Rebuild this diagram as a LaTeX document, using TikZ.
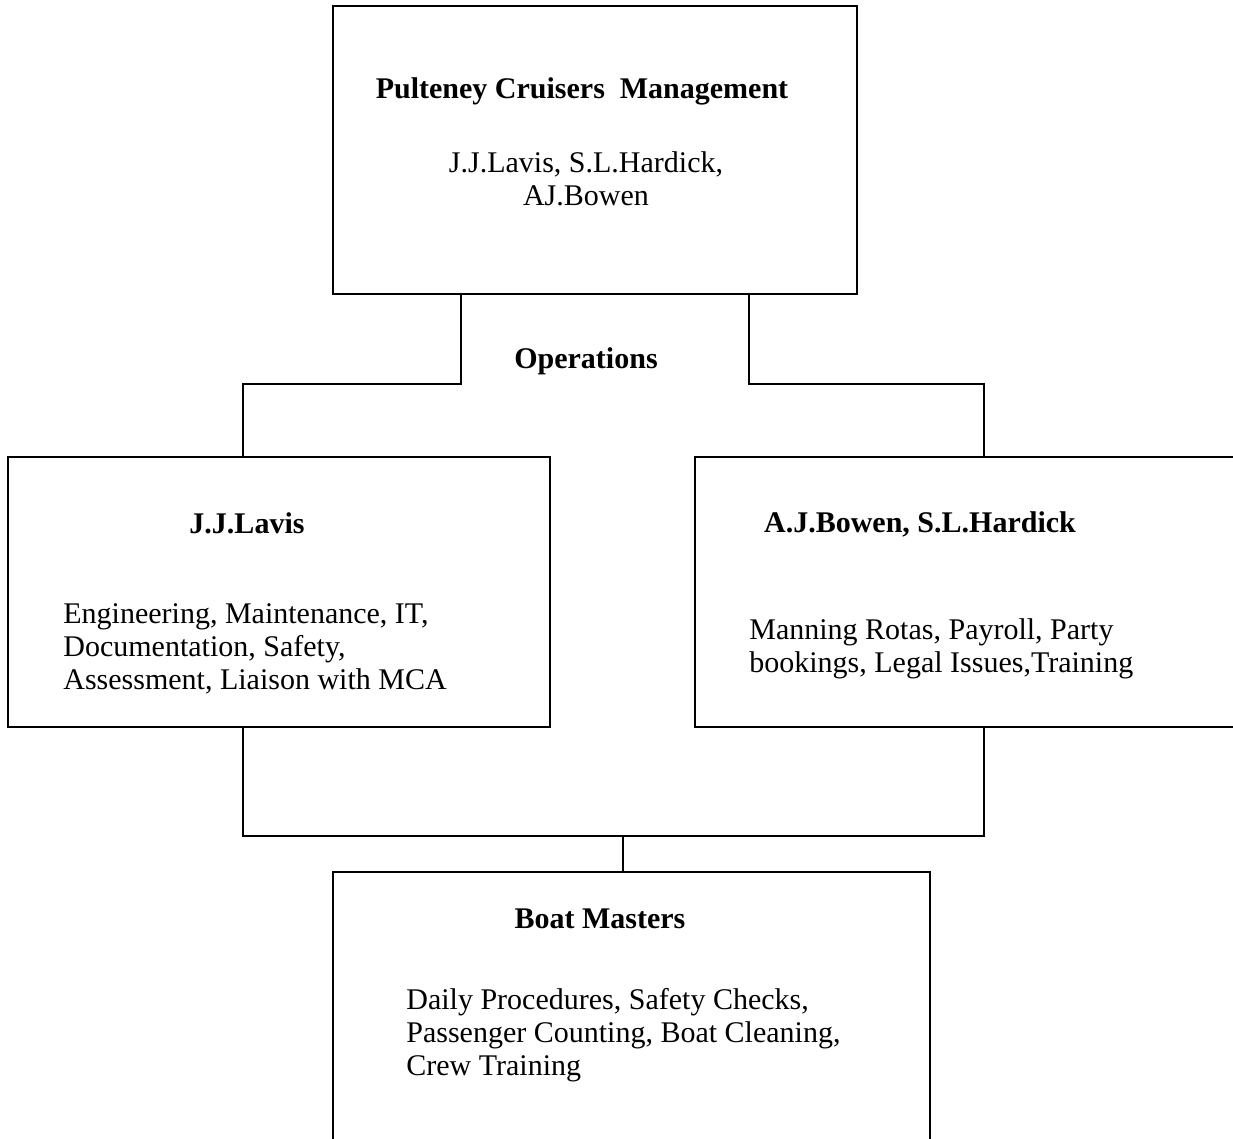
\documentclass[tikz,border=0pt]{standalone}
\usepackage{fontspec}
\setmainfont{Liberation Serif}
\begin{document}
\begin{tikzpicture}[x=0.5pt,y=-0.5pt,
  box/.style={draw, line width=0.9pt, inner sep=0pt},
  conn/.style={line width=0.75pt},
  txt/.style={inner sep=0pt, font=\fontsize{15}{16.5}\selectfont},
  btxt/.style={inner sep=0pt, font=\fontsize{15}{16.5}\selectfont\bfseries}]
\useasboundingbox (0,0) rectangle (1233,1139);
\clip (0,0) rectangle (1233,1139);
\node[box, minimum width=262pt, minimum height=144pt] (top) at (595,150) {};
\node[box, minimum width=271pt, minimum height=135pt] (left) at (279,592) {};
\node[box, minimum width=285pt, minimum height=135pt] (right) at (980,592) {};
\node[box, minimum width=298.5pt, minimum height=149pt] (bottom) at (631.5,1021) {};
\coordinate (a1) at (461,384);
\coordinate (a2) at (243,384);
\coordinate (a3) at (984,384);
\coordinate (a4) at (749,384);
\coordinate (b1) at (623,836);
\draw[conn] (top.south -| a1) -- (a1) -- (a2) -- (left.north -| a2);
\draw[conn] (top.south -| a4) -- (a4) -- (a3) -- (right.north -| a3);
\draw[conn] (left.south -| a2) |- (b1) -| (right.south -| a3);
\draw[conn] (b1) -- (bottom.north -| b1);
\node[btxt] (t1) at (582,91) {Pulteney Cruisers\ \ Management};
\node[txt, align=center] (t2) at (586,179) {J.J.Lavis, S.L.Hardick,\\AJ.Bowen};
\node[btxt] (ops) at (586,361) {Operations};
\node[btxt] (t3) at (247,523) {J.J.Lavis};
\node[txt, align=left, anchor=west] (t4) at (63,648.5) {Engineering, Maintenance, IT,\\Documentation, Safety,\\Assessment, Liaison with MCA};
\node[btxt] (t5) at (920,524) {A.J.Bowen, S.L.Hardick};
\node[txt, align=left, anchor=west] (t6) at (749,648.5) {Manning Rotas, Payroll, Party\\bookings, Legal Issues,Training};
\node[btxt] (t7) at (600,919) {Boat Masters};
\node[txt, align=left, anchor=west] (t8) at (406,1035) {Daily Procedures, Safety Checks,\\Passenger Counting, Boat Cleaning,\\Crew Training};
\end{tikzpicture}
\end{document}
